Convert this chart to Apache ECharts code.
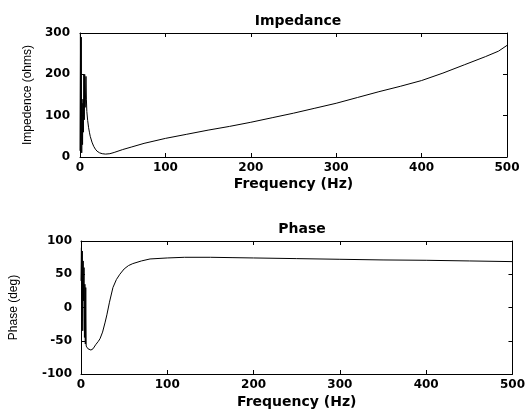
<!DOCTYPE html>
<html>
<head>
<meta charset="utf-8">
<script src="https://cdn.jsdelivr.net/npm/echarts@6/dist/echarts.min.js"></script>
<style>
  html, body { margin: 0; padding: 0; background: #ffffff; }
  #chart { width: 528px; height: 410px; }
</style>
</head>
<body>
<div id="chart"></div>
<script>
// Impedance magnitude vs frequency
var impFreq = [0, 0.5, 1, 1.5, 2, 2.5, 3, 3.5, 4, 4.5, 5, 5.5, 6, 6.5, 7, 7.5, 8, 9, 10, 11, 12, 14, 16, 18, 20, 23, 26, 30, 35, 40, 50, 60, 75, 100, 125, 150, 175, 200, 225, 250, 275, 300, 325, 350, 375, 400, 425, 450, 475, 490, 500];
var impOhms = [15, 300, 40, 290, 10, 130, 30, 140, 60, 200, 90, 200, 120, 150, 195, 140, 110, 88, 72, 60, 50, 36, 26, 19, 14, 10, 8, 7, 8, 11, 18, 24, 33, 45, 55, 65, 74, 84, 95, 106, 118, 130, 144, 158, 171, 185, 203, 223, 243, 256, 270];

// Phase vs frequency
var phaseFreq = [0, 0.5, 1, 1.5, 2, 2.5, 3, 3.5, 4, 4.5, 5, 5.5, 6, 7, 8, 10, 11.5, 14, 17, 20, 22, 25, 28, 30, 33, 37, 41, 45, 50, 55, 60, 70, 80, 100, 120, 150, 175, 200, 250, 300, 350, 400, 450, 500];
var phaseDeg = [40, 90, -20, 85, -35, 70, 10, 60, -45, 35, -55, 30, -58, -60, -62, -63, -64, -62, -56, -51, -47, -37, -22, -11, 8, 30, 42, 50, 58, 63, 66, 70, 73, 74.5, 75.5, 75.5, 75, 74.5, 73.5, 72.5, 71.5, 71, 70, 69];

// Axis ranges and tick steps
var freqRange = [0, 500], freqStep = 100;
var impRange = [0, 300], impStep = 100;
var phaseRange = [-100, 100], phaseStep = 50;

function pairs(xs, ys) {
  var out = [];
  for (var i = 0; i < xs.length; i++) out.push([xs[i], ys[i]]);
  return out;
}

var lineStyle = { color: '#000', width: 1 };
var tickLabel = { show: true, color: '#000', fontFamily: 'DejaVu Sans', fontWeight: 'bold', fontSize: 12 };
var nameFont = { color: '#000', fontFamily: 'DejaVu Sans', fontWeight: 'bold', fontSize: 14 };
var yNameFont = { color: '#000', fontFamily: 'Liberation Sans', fontSize: 12 };

function withMargin(m) {
  var o = {};
  for (var k in tickLabel) o[k] = tickLabel[k];
  o.margin = m;
  return o;
}

// One side of a MATLAB-style boxed axes: line plus inward ticks
function boxAxis(gridIndex, range, step, position, extra) {
  var ax = {
    type: 'value',
    gridIndex: gridIndex,
    position: position,
    min: range[0],
    max: range[1],
    interval: step,
    axisLine: { show: true, onZero: false, lineStyle: lineStyle },
    axisTick: { show: true, inside: true, length: 4, lineStyle: lineStyle },
    splitLine: { show: false },
    axisLabel: { show: false }
  };
  for (var k in extra) ax[k] = extra[k];
  return ax;
}

var chart = echarts.init(document.getElementById('chart'), null, { renderer: 'canvas' });

chart.setOption({
  backgroundColor: '#ffffff',
  animation: false,
  title: [
    { text: 'Impedance', left: 293, top: 9, textAlign: 'center', textStyle: nameFont },
    { text: 'Phase', left: 297, top: 217, textAlign: 'center', textStyle: nameFont }
  ],
  grid: [
    { left: 80, right: 21, top: 33, height: 124 },
    { left: 81, right: 13, top: 241, height: 133 }
  ],
  xAxis: [
    boxAxis(0, freqRange, freqStep, 'bottom', {
      axisLabel: withMargin(5),
      name: 'Frequency (Hz)', nameLocation: 'middle', nameGap: 20, nameTextStyle: nameFont
    }),
    boxAxis(0, freqRange, freqStep, 'top', {}),
    boxAxis(1, freqRange, freqStep, 'bottom', {
      axisLabel: withMargin(5),
      name: 'Frequency (Hz)', nameLocation: 'middle', nameGap: 21, nameTextStyle: nameFont
    }),
    boxAxis(1, freqRange, freqStep, 'top', {})
  ],
  yAxis: [
    boxAxis(0, impRange, impStep, 'left', {
      axisLabel: withMargin(10),
      name: 'Impedence (ohms)', nameLocation: 'middle', nameGap: 45, nameRotate: 90, nameTextStyle: yNameFont
    }),
    boxAxis(0, impRange, impStep, 'right', {}),
    boxAxis(1, phaseRange, phaseStep, 'left', {
      axisLabel: withMargin(9),
      name: 'Phase (deg)', nameLocation: 'middle', nameGap: 61, nameRotate: 90, nameTextStyle: yNameFont
    }),
    boxAxis(1, phaseRange, phaseStep, 'right', {})
  ],
  series: [
    {
      type: 'line', xAxisIndex: 0, yAxisIndex: 0,
      data: pairs(impFreq, impOhms),
      showSymbol: false,
      lineStyle: { color: '#000', width: 1 }
    },
    {
      type: 'line', xAxisIndex: 2, yAxisIndex: 2,
      data: pairs(phaseFreq, phaseDeg),
      showSymbol: false,
      lineStyle: { color: '#000', width: 1 }
    }
  ]
});
</script>
</body>
</html>
